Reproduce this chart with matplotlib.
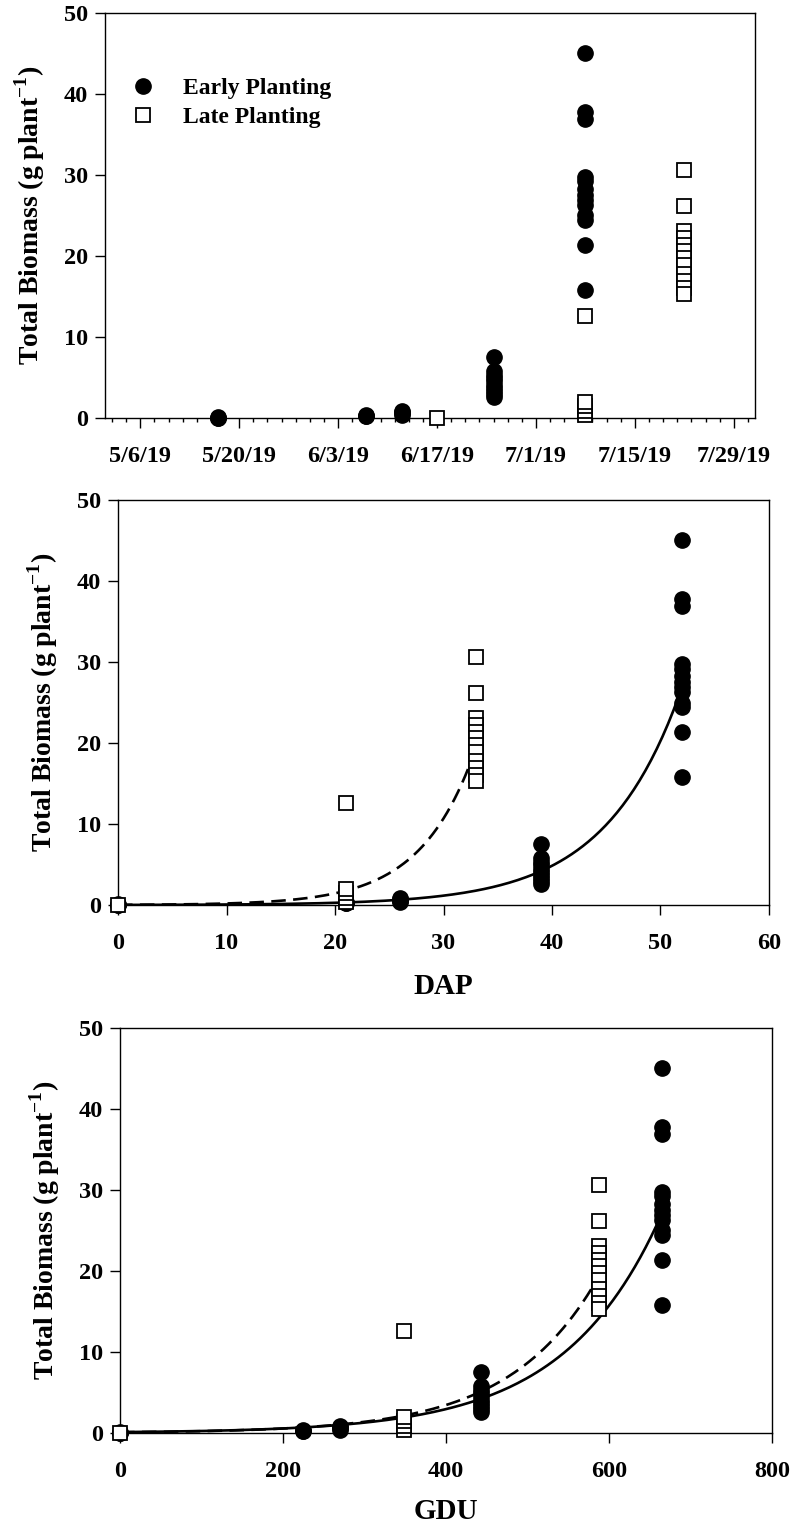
import numpy as np
import pandas as pd
import matplotlib
matplotlib.use('Agg')
import matplotlib.pyplot as plt
import matplotlib.dates as mdates

plt.rcParams['font.family'] = ['Liberation Serif', 'DejaVu Serif']
plt.rcParams['font.weight'] = 'bold'
plt.rcParams['mathtext.fontset'] = 'custom'
plt.rcParams['mathtext.rm'] = 'Liberation Serif:bold'
plt.rcParams['mathtext.bf'] = 'Liberation Serif:bold'

# sampling dates, days after planting and growing degree units
early_dates = ['5/17/19', '6/7/19', '6/12/19', '6/25/19', '7/8/19']
early_dap = [0, 21, 26, 39, 52]
early_gdu = [0, 224, 270, 443, 665]
early_biomass = [
    [0.0, 0.05, 0.1],
    [0.2, 0.3, 0.4],
    [0.4, 0.55, 0.7, 0.9],
    [7.5, 5.8, 5.3, 4.9, 4.5, 4.1, 3.7, 3.3, 3.0, 2.6],
    [45.1, 37.8, 36.9, 29.8, 29.2, 28.3, 27.5, 26.9, 26.3, 25.0, 24.5, 21.4, 15.8],
]

late_dates = ['6/17/19', '7/8/19', '7/22/19']
late_dap = [0, 21, 33]
late_gdu = [0, 349, 588]
late_biomass = [
    [0.0],
    [0.4, 0.9, 1.5, 2.0, 12.6],
    [30.6, 26.2, 23.1, 22.2, 21.4, 20.6, 19.8, 18.9, 17.8, 16.9, 16.0, 15.3],
]

# exponential fits y = a * exp(b * x)
early_dap_fit = (0.0159, 0.143)
late_dap_fit = (0.0265, 0.200)
early_gdu_fit = (0.103, 0.00838)
late_gdu_fit = (0.0869, 0.0092)

date_ticks = ['5/6/19', '5/20/19', '6/3/19', '6/17/19', '7/1/19', '7/15/19', '7/29/19']
date_range = ['5/1/19', '8/1/19']
yticks = [0, 10, 20, 30, 40, 50]
ylab = r'Total Biomass (g plant$^{\mathbf{-1}}$)'


def to_date(s):
    return pd.to_datetime(s, format='%m/%d/%y')


def flatten(xs, groups):
    xx, yy = [], []
    for x, g in zip(xs, groups):
        xx += [x] * len(g)
        yy += list(g)
    return xx, yy


circle = dict(marker='o', linestyle='none', color='black', markersize=11, clip_on=False, zorder=4)
square = dict(marker='s', linestyle='none', markerfacecolor='white', markeredgecolor='black',
              markersize=10, markeredgewidth=1.3, clip_on=False, zorder=5)
dashed = (0, (5.5, 2.8))


def style(ax, xlim):
    ax.set_xlim(xlim)
    ax.set_ylim(0, 50)
    ax.set_yticks(yticks)
    ax.tick_params(direction='out', length=7, width=1, labelsize=17.5, pad=5,
                   top=False, right=False)
    for s in ax.spines.values():
        s.set_linewidth(1)
    ax.set_ylabel(ylab, fontsize=20, fontweight='bold', labelpad=12)


fig = plt.figure(figsize=(7.9, 15.27), dpi=100)

# top: biomass by date
ax1 = fig.add_axes([0.1329, 0.7263, 0.8228, 0.2652])
ex, ey = flatten([to_date(d) for d in early_dates], early_biomass)
lx, ly = flatten([to_date(d) for d in late_dates], late_biomass)
ax1.plot(ex, ey, label='Early Planting', **circle)
ax1.plot(lx, ly, label='Late Planting', **square)
style(ax1, (to_date(date_range[0]), to_date(date_range[1])))
ax1.set_xticks([to_date(d) for d in date_ticks])
ax1.set_xticklabels(date_ticks)
ax1.xaxis.set_minor_locator(mdates.DayLocator(interval=2))
ax1.tick_params(axis='x', which='minor', direction='out', length=3, width=1)
ax1.tick_params(axis='x', pad=13)
ax1.legend(loc='upper left', bbox_to_anchor=(0.04, 0.84), frameon=False, fontsize=17,
           handlelength=1.0, handletextpad=1.2, labelspacing=0.3, borderpad=0,
           borderaxespad=0)

# middle: biomass by DAP
ax2 = fig.add_axes([0.1494, 0.4073, 0.8240, 0.2652])
ex, ey = flatten(early_dap, early_biomass)
lx, ly = flatten(late_dap, late_biomass)
xs = np.linspace(0, early_dap[-1], 200)
ax2.plot(xs, early_dap_fit[0] * np.exp(early_dap_fit[1] * xs), color='black', lw=1.9, zorder=3)
xs = np.linspace(0, late_dap[-1], 200)
ax2.plot(xs, late_dap_fit[0] * np.exp(late_dap_fit[1] * xs), color='black', lw=1.9,
         linestyle=dashed, zorder=3)
ax2.plot(ex, ey, **circle)
ax2.plot(lx, ly, **square)
style(ax2, (0, 60))
ax2.set_xticks([0, 10, 20, 30, 40, 50, 60])
ax2.tick_params(axis='x', pad=13)
ax2.set_xlabel('DAP', fontsize=21, fontweight='bold', labelpad=14)

# bottom: biomass by GDU
ax3 = fig.add_axes([0.1519, 0.0616, 0.8253, 0.2652])
ex, ey = flatten(early_gdu, early_biomass)
lx, ly = flatten(late_gdu, late_biomass)
xs = np.linspace(0, early_gdu[-1], 200)
ax3.plot(xs, early_gdu_fit[0] * np.exp(early_gdu_fit[1] * xs), color='black', lw=1.9, zorder=3)
xs = np.linspace(0, late_gdu[-1], 200)
ax3.plot(xs, late_gdu_fit[0] * np.exp(late_gdu_fit[1] * xs), color='black', lw=1.9,
         linestyle=dashed, zorder=3)
ax3.plot(ex, ey, **circle)
ax3.plot(lx, ly, **square)
style(ax3, (0, 800))
ax3.set_xticks([0, 200, 400, 600, 800])
ax3.tick_params(axis='x', pad=13)
ax3.set_xlabel('GDU', fontsize=21, fontweight='bold', labelpad=12)

fig.savefig('out.png', dpi=100)
